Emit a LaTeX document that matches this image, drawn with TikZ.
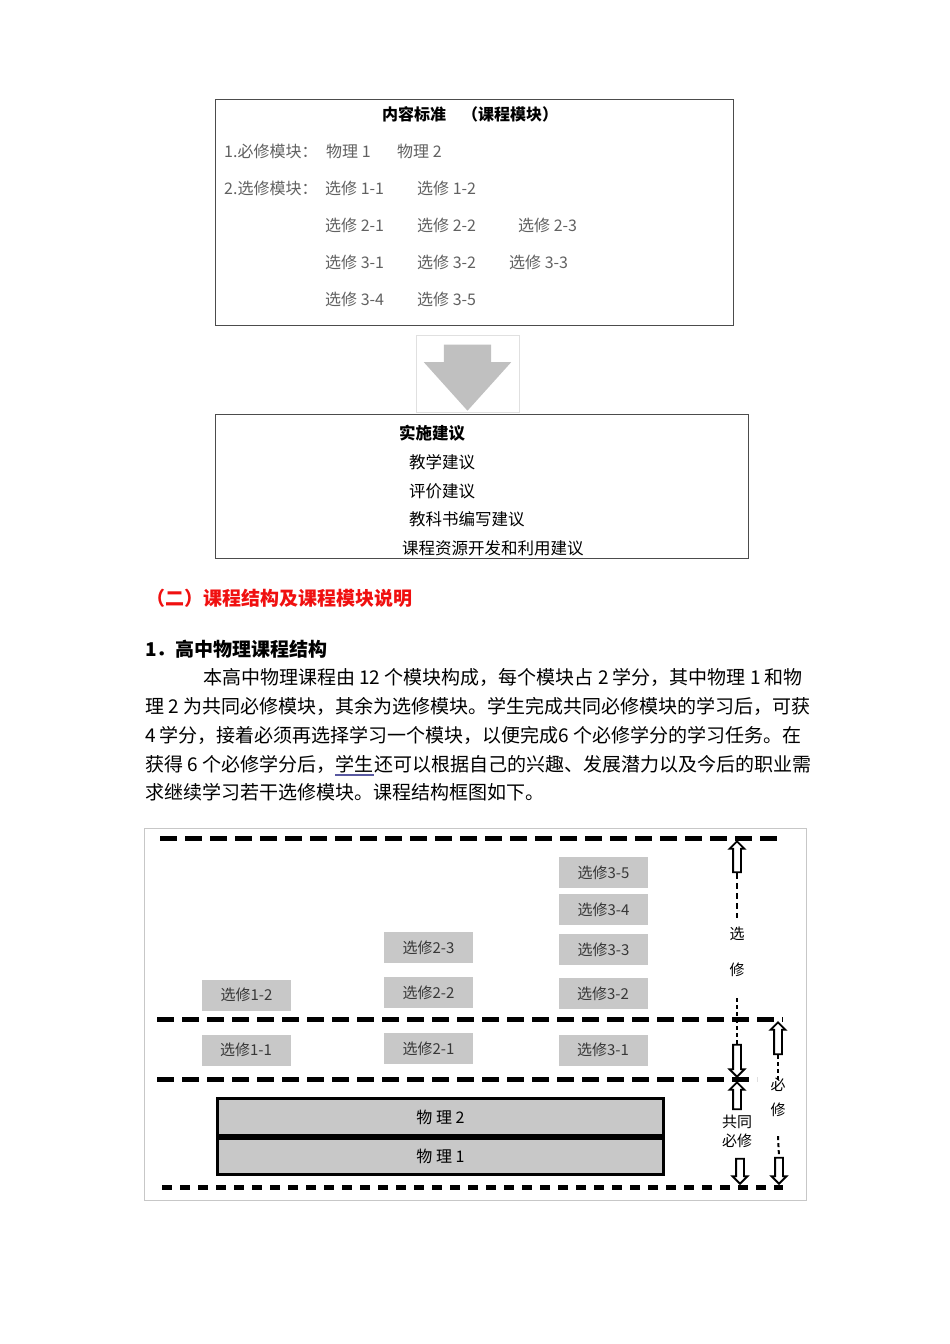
\documentclass[tikz,border=0pt]{standalone}
\usepackage{fontspec}
\setmainfont{Noto Sans CJK SC}
\usetikzlibrary{positioning,shapes.arrows}
\definecolor{boxgray}{HTML}{C8C8C8}
\definecolor{arrowgray}{HTML}{C0C0C0}
\definecolor{headred}{HTML}{F01010}
\definecolor{ulineblue}{HTML}{5858A0}
\tikzset{
  framebox/.style={draw=black!70, line width=1pt},
  boxtitle/.style={inner sep=0pt, font=\fontsize{16}{16}\selectfont\bfseries},
  stditem/.style={anchor=west, inner sep=0pt, font=\fontsize{16}{16}\selectfont, text=black!62},
  advitem/.style={anchor=west, inner sep=0pt, font=\fontsize{16.5}{16.5}\selectfont},
  bodyline/.style={anchor=west, inner sep=0pt, font=\fontsize{19}{19}\selectfont},
  modbox/.style={fill=boxgray, minimum width=89pt, minimum height=31pt, inner sep=0pt,
    font=\fontsize{15}{15}\selectfont, text=black!78},
  physbox/.style={draw, line width=3pt, fill=boxgray, minimum width=446pt, inner sep=0pt,
    font=\fontsize{16}{16}\selectfont},
  bigdash/.style={line width=5pt, dash pattern=on 17pt off 8pt},
  smalldash/.style={line width=5pt, dash pattern=on 10pt off 8pt},
  thindash/.style={line width=2pt, dash pattern=on 6pt off 4pt},
  dotdash/.style={line width=2pt, dash pattern=on 4pt off 3pt},
  hollow/.style={single arrow, draw, fill=white, line width=1.8pt, inner xsep=0pt,
    inner ysep=3pt, single arrow head extend=3.5pt, anchor=tip},
  sidelabel/.style={inner sep=1pt, font=\fontsize{15}{19}\selectfont, align=center},
}
\begin{document}
\begin{tikzpicture}[x=1pt,y=-1pt]
\useasboundingbox[fill=white] (0,0) rectangle (950,1344);

% content standards box
\draw[framebox] (215,99) rectangle (733,325);
\node[boxtitle] (stdtitle) at (470,114) {内容标准\quad （课程模块）};
\node[stditem] (req) at (224,151) {1.必修模块：};
\node[stditem] (phy1) at (326,151) {物理 1};
\node[stditem] (phy2) at (397,151) {物理 2};
\node[stditem] (opt) at (224,188) {2.选修模块：};
\node[stditem] (s11) at (325,188) {选修 1-1};
\node[stditem] (s12) at (417,188) {选修 1-2};
\node[stditem] (s21) at (325,225) {选修 2-1};
\node[stditem] (s22) at (417,225) {选修 2-2};
\node[stditem] (s23) at (518,225) {选修 2-3};
\node[stditem] (s31) at (325,262) {选修 3-1};
\node[stditem] (s32) at (417,262) {选修 3-2};
\node[stditem] (s33) at (509,262) {选修 3-3};
\node[stditem] (s34) at (325,299) {选修 3-4};
\node[stditem] (s35) at (417,299) {选修 3-5};

% big arrow
\node[draw=black!12, line width=0.8pt, minimum width=103pt, minimum height=77pt, inner sep=0pt] (arrowframe) at (467.5,373.5) {};
\node[single arrow, fill=arrowgray, rotate=-90, inner xsep=0pt, inner ysep=23.5pt,
  single arrow head extend=20pt, single arrow tip angle=84, minimum height=66pt,
  anchor=tip] (bigarrow) at (467.5,411) {};

% implementation box
\draw[framebox] (215,414) rectangle (748,558);
\node[advitem, font=\fontsize{16.5}{16.5}\selectfont\bfseries] (advtitle) at (399,433) {实施建议};
\node[advitem] (adv1) at (409,462) {教学建议};
\node[advitem] (adv2) at (409,491) {评价建议};
\node[advitem] (adv3) at (409,519) {教科书编写建议};
\node[advitem] (adv4) at (402,548) {课程资源开发和利用建议};

% text
\node[bodyline, font=\fontsize{19}{19}\selectfont\bfseries, text=headred] (sect) at (146,598) {（二）课程结构及课程模块说明};
\node[bodyline, font=\fontsize{19}{19}\selectfont\bfseries] (sub) at (145,649) {1．高中物理课程结构};
\node[bodyline] (l1) at (203,677) {本高中物理课程由 12 个模块构成，每个模块占 2 学分，其中物理 1 和物};
\node[bodyline] (l2) at (145,706) {理 2 为共同必修模块，其余为选修模块。学生完成共同必修模块的学习后，可获};
\node[bodyline] (l3) at (145,735) {4 学分，接着必须再选择学习一个模块，以便完成6 个必修学分的学习任务。在};
\node[bodyline] (l4a) at (145,764) {获得 6 个必修学分后，};
\node[bodyline, anchor=base west] (l4b) at (l4a.base east) {学生};
\node[bodyline, anchor=base west] (l4c) at (l4b.base east) {还可以根据自己的兴趣、发展潜力以及今后的职业需};
\draw[ulineblue, line width=1.2pt] ([yshift=-4pt]l4b.base west) -- ([yshift=-4pt]l4b.base east);
\node[bodyline] (l5) at (145,792) {求继续学习若干选修模块。课程结构框图如下。};

% structure diagram
\draw[draw=black!22, line width=1pt] (144,828) rectangle (806,1200);
\coordinate (topL) at (160,838);
\coordinate (topR) at (783,838);
\coordinate (midL) at (157,1019);
\coordinate (midR) at (783,1019);
\coordinate (lowL) at (157,1079);
\coordinate (lowR) at (757,1079);
\coordinate (botL) at (162,1187);
\coordinate (botR) at (783,1187);
\draw[bigdash] (topL) -- (topR);
\draw[bigdash] (midL) -- (midR);
\draw[bigdash] (lowL) -- (lowR);
\draw[smalldash] (botL) -- (botR);

\node[modbox] (m12) at (246.5,995) {选修1-2};
\node[modbox] (m11) at (246,1050) {选修1-1};
\node[modbox] (m23) at (428.5,947.5) {选修2-3};
\node[modbox] (m22) at (428.5,992.5) {选修2-2};
\node[modbox] (m21) at (428.5,1048.5) {选修2-1};
\node[modbox] (m35) at (603.5,872.5) {选修3-5};
\node[modbox] (m34) at (603.5,909.5) {选修3-4};
\node[modbox] (m33) at (603.5,949.5) {选修3-3};
\node[modbox] (m32) at (603,993.5) {选修3-2};
\node[modbox] (m31) at (603,1050) {选修3-1};

\node[physbox, minimum height=37pt] (p2) at (440.5,1117) {物 理 2};
\node[physbox, minimum height=36pt] (p1) at (440.5,1156.5) {物 理 1};

% side arrows
\node[hollow, rotate=90, minimum height=31pt] (optup) at (737,840) {};
\node[sidelabel] (optA) at (737,934) {选};
\node[sidelabel] (optB) at (737,970) {修};
\node[hollow, rotate=-90, minimum height=32pt] (optdn) at (737,1078) {};
\draw[thindash] (optup.tail) -- ([yshift=8pt]optA.north);
\draw[dotdash] ([yshift=-20pt]optB.south) -- (optdn.tail);

\node[hollow, rotate=90, minimum height=27pt] (comup) at (737,1081) {};
\node[sidelabel] (comlbl) at (737,1131) {共同\\必修};
\node[hollow, rotate=-90, minimum height=25pt] (comdn) at (740,1185) {};

\node[hollow, rotate=90, minimum height=32pt] (requp) at (778,1021) {};
\node[sidelabel] (reqA) at (778,1085) {必};
\node[sidelabel] (reqB) at (778,1110) {修};
\node[hollow, rotate=-90, minimum height=26pt] (reqdn) at (779,1185) {};
\draw[dotdash] (requp.tail) -- ([yshift=-3pt]reqA.north);
\draw[dotdash] ([yshift=-18pt]reqB.south) -- (reqdn.tail);
\end{tikzpicture}
\end{document}
